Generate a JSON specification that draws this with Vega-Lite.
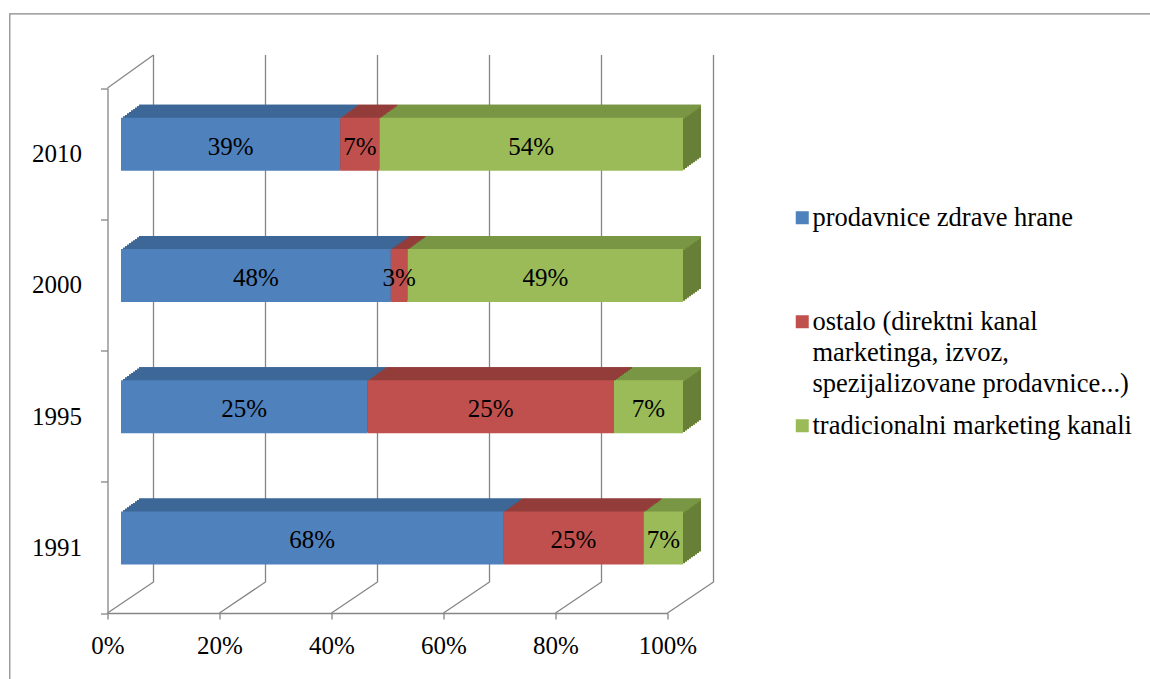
{
  "$schema": "https://vega.github.io/schema/vega-lite/v6.json",
  "autosize": {"type": "none"},
  "padding": {"left": 9.5, "top": 13.5, "right": -3, "bottom": -3},
  "width": 1143.5,
  "height": 668.5,
  "config": {
    "view": {"stroke": "#868686", "strokeWidth": 1.2},
    "font": "Liberation Serif",
    "style": {"guide-label": {"lineHeight": 31}}
  },
  "datasets": {
    "shares": [
      {"year": "2010", "cat": "prodavnice zdrave hrane", "k": 1, "v": 0.39},
      {"year": "2010", "cat": "ostalo (direktni kanal marketinga, izvoz, spezijalizovane prodavnice...)", "k": 2, "v": 0.07},
      {"year": "2010", "cat": "tradicionalni marketing kanali", "k": 3, "v": 0.54},
      {"year": "2000", "cat": "prodavnice zdrave hrane", "k": 1, "v": 0.48},
      {"year": "2000", "cat": "ostalo (direktni kanal marketinga, izvoz, spezijalizovane prodavnice...)", "k": 2, "v": 0.03},
      {"year": "2000", "cat": "tradicionalni marketing kanali", "k": 3, "v": 0.49},
      {"year": "1995", "cat": "prodavnice zdrave hrane", "k": 1, "v": 0.25},
      {"year": "1995", "cat": "ostalo (direktni kanal marketinga, izvoz, spezijalizovane prodavnice...)", "k": 2, "v": 0.25},
      {"year": "1995", "cat": "tradicionalni marketing kanali", "k": 3, "v": 0.07},
      {"year": "1991", "cat": "prodavnice zdrave hrane", "k": 1, "v": 0.68},
      {"year": "1991", "cat": "ostalo (direktni kanal marketinga, izvoz, spezijalizovane prodavnice...)", "k": 2, "v": 0.25},
      {"year": "1991", "cat": "tradicionalni marketing kanali", "k": 3, "v": 0.07}
    ],
    "grid": [{"g": 0}, {"g": 0.2}, {"g": 0.4}, {"g": 0.6}, {"g": 0.8}, {"g": 1}]
  },
  "layer": [
    {
      "data": {"name": "grid"},
      "layer": [
        {
          "mark": {"type": "rule", "color": "#868686", "strokeWidth": 1.3, "xOffset": 46, "yOffset": -31, "y2Offset": -33},
          "encoding": {
            "x": {
              "field": "g", "type": "quantitative",
              "scale": {"domain": [0, 1], "range": [98, 658]},
              "axis": {
                "values": [0, 0.2, 0.4, 0.6, 0.8, 1], "format": ".0%", "orient": "bottom", "offset": -69,
                "grid": false, "title": null, "labelFlush": false, "labelOverlap": false,
                "domainColor": "#868686", "domainWidth": 1.3, "tickColor": "#868686", "tickWidth": 1.3, "tickSize": 6,
                "labelPadding": 14, "labelFont": "Liberation Serif", "labelFontSize": 25, "labelColor": "#000000"
              }
            },
            "y": {"datum": 0, "type": "quantitative", "scale": {"domain": [0, 1], "range": [599.5, 74.5]}, "axis": null},
            "y2": {"datum": 1}
          }
        },
        {
          "mark": {"type": "rule", "color": "#868686", "strokeWidth": 1.3, "x2Offset": 46, "y2Offset": -31},
          "encoding": {
            "x": {"field": "g", "type": "quantitative"},
            "x2": {"field": "g"},
            "y": {"datum": 0, "type": "quantitative"},
            "y2": {"datum": 0}
          }
        },
        {
          "data": {"values": [{"g": 0}]},
          "mark": {"type": "rule", "color": "#868686", "strokeWidth": 1.3, "x2Offset": 46, "y2Offset": -33},
          "encoding": {
            "x": {"field": "g", "type": "quantitative"},
            "x2": {"field": "g"},
            "y": {"datum": 1, "type": "quantitative"},
            "y2": {"datum": 1}
          }
        }
      ]
    },
    {
      "data": {"name": "shares"},
      "transform": [
        {"stack": "v", "groupby": ["year"], "sort": [{"field": "k", "order": "ascending"}], "offset": "normalize", "as": ["x0", "x1"]}
      ],
      "encoding": {
        "x": {"field": "x0", "type": "quantitative", "scale": {"domain": [0, 1], "range": [111.5, 673.5]}, "axis": null},
        "x2": {"field": "x1"},
        "y": {
          "field": "year", "type": "nominal",
          "scale": {"domain": ["2010", "2000", "1995", "1991"], "range": [74.5, 599.5], "paddingInner": 0, "paddingOuter": 0},
          "axis": {
            "orient": "left", "offset": -98, "title": null, "tickBand": "extent",
            "domainColor": "#868686", "domainWidth": 1.3, "tickColor": "#868686", "tickWidth": 1.3, "tickSize": 7,
            "labelPadding": 19, "labelFont": "Liberation Serif", "labelFontSize": 25, "labelColor": "#000000", "labelAngle": 0
          }
        }
      },
      "layer": [
        {
          "encoding": {
            "color": {
              "field": "cat", "type": "nominal", "legend": null,
              "scale": {"domain": ["prodavnice zdrave hrane", "ostalo (direktni kanal marketinga, izvoz, spezijalizovane prodavnice...)", "tradicionalni marketing kanali"], "range": ["#355a85", "#823533", "#687f37"]}
            }
          },
          "layer": [
            {"mark": {"type": "bar", "size": 53, "xOffset": 18, "x2Offset": 18, "yOffset": -22.3}},
            {"mark": {"type": "bar", "size": 53, "xOffset": 16, "x2Offset": 16, "yOffset": -20.85}},
            {"mark": {"type": "bar", "size": 53, "xOffset": 14, "x2Offset": 14, "yOffset": -19.4}},
            {"mark": {"type": "bar", "size": 53, "xOffset": 12, "x2Offset": 12, "yOffset": -17.97}},
            {"mark": {"type": "bar", "size": 53, "xOffset": 10, "x2Offset": 10, "yOffset": -16.52}},
            {"mark": {"type": "bar", "size": 53, "xOffset": 8, "x2Offset": 8, "yOffset": -15.08}},
            {"mark": {"type": "bar", "size": 53, "xOffset": 6, "x2Offset": 6, "yOffset": -13.63}},
            {"mark": {"type": "bar", "size": 53, "xOffset": 4, "x2Offset": 4, "yOffset": -12.19}},
            {"mark": {"type": "bar", "size": 53, "xOffset": 2, "x2Offset": 2, "yOffset": -10.74}}
          ]
        },
        {
          "encoding": {
            "color": {
              "field": "cat", "type": "nominal", "legend": null,
              "scale": {"domain": ["prodavnice zdrave hrane", "ostalo (direktni kanal marketinga, izvoz, spezijalizovane prodavnice...)", "tradicionalni marketing kanali"], "range": ["#3d6797", "#933d3b", "#799645"]}
            }
          },
          "layer": [
            {"mark": {"type": "bar", "size": 2.4, "xOffset": 18, "x2Offset": 18, "yOffset": -47.6}},
            {"mark": {"type": "bar", "size": 2.4, "xOffset": 16, "x2Offset": 16, "yOffset": -46.15}},
            {"mark": {"type": "bar", "size": 2.4, "xOffset": 14, "x2Offset": 14, "yOffset": -44.7}},
            {"mark": {"type": "bar", "size": 2.4, "xOffset": 12, "x2Offset": 12, "yOffset": -43.27}},
            {"mark": {"type": "bar", "size": 2.4, "xOffset": 10, "x2Offset": 10, "yOffset": -41.82}},
            {"mark": {"type": "bar", "size": 2.4, "xOffset": 8, "x2Offset": 8, "yOffset": -40.38}},
            {"mark": {"type": "bar", "size": 2.4, "xOffset": 6, "x2Offset": 6, "yOffset": -38.93}},
            {"mark": {"type": "bar", "size": 2.4, "xOffset": 4, "x2Offset": 4, "yOffset": -37.49}},
            {"mark": {"type": "bar", "size": 2.4, "xOffset": 2, "x2Offset": 2, "yOffset": -36.04}}
          ]
        },
        {
          "mark": {"type": "bar", "size": 53, "yOffset": -9.3},
          "encoding": {
            "color": {
              "field": "cat", "type": "nominal",
              "scale": {"domain": ["prodavnice zdrave hrane", "ostalo (direktni kanal marketinga, izvoz, spezijalizovane prodavnice...)", "tradicionalni marketing kanali"], "range": ["#4f81bd", "#c0504d", "#9bbb59"]},
              "legend": {
                "orient": "none", "legendX": 779.5, "legendY": 191, "title": null, "padding": 0,
                "symbolType": "square", "symbolSize": 169, "symbolStrokeWidth": 0,
                "labelFont": "Liberation Serif", "labelFontSize": 26.5, "labelColor": "#000000", "labelLimit": 0,
                "labelOffset": -3, "rowPadding": 15,
                "labelExpr": "indexof(datum.label, 'ostalo') == 0 ? ['ostalo (direktni kanal', 'marketinga, izvoz,', 'spezijalizovane prodavnice...)'] : indexof(datum.label, 'prodavnice') == 0 ? [datum.label, '', ''] : datum.label"
              }
            }
          }
        },
        {
          "transform": [{"calculate": "(datum.x0 + datum.x1) / 2", "as": "xm"}],
          "mark": {"type": "text", "yOffset": -7, "font": "Liberation Serif", "fontSize": 25, "color": "#000000"},
          "encoding": {
            "x": {"field": "xm", "type": "quantitative"},
            "x2": null,
            "text": {"field": "v", "type": "quantitative", "format": ".0%"}
          }
        }
      ],
      "resolve": {"scale": {"color": "independent"}}
    }
  ],
  "resolve": {
    "scale": {"x": "independent", "y": "independent"},
    "axis": {"x": "independent", "y": "independent"}
  }
}
